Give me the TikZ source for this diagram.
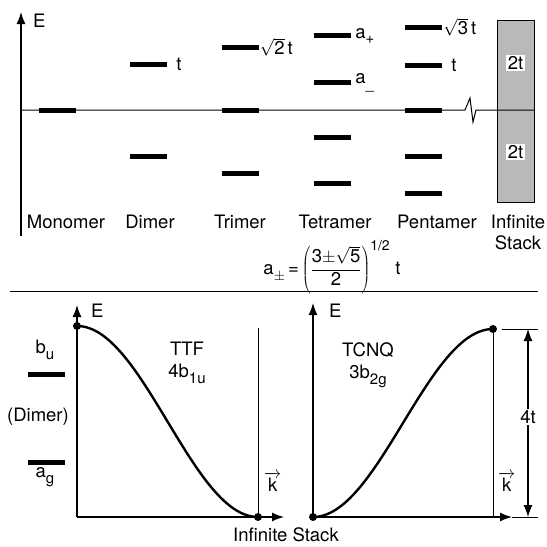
\documentclass[tikz,border=0pt]{standalone}
\usepackage{fontspec}
\setmainfont{TeX Gyre Heros}
\usetikzlibrary{arrows.meta}
\newcommand\lowsub[1]{\raisebox{-0.32em}{\fontsize{15}{15}\selectfont #1}}
\begin{document}
\begin{tikzpicture}[x=1pt,y=-1pt,font=\fontsize{18.5}{20}\selectfont,
  >={Latex[length=12pt,width=9pt]},
  lvl/.style={fill=black,minimum width=37pt,minimum height=5pt,inner sep=0pt},
  axline/.style={line width=1.3pt,<-},
  dax/.style={line width=1.2pt,<->},
  thinl/.style={line width=1pt},
  curve/.style={line width=2.4pt},
  dot/.style={circle,fill=black,inner sep=0pt,minimum size=8pt},
  lab/.style={inner sep=1pt}]
\useasboundingbox (0,0) rectangle (547,547);
% ---------------- top panel ----------------
\coordinate (ta0) at (21,236);
\coordinate (ta1) at (21,12);
\draw[axline] (ta1) -- (ta0);
\node[lab,anchor=west] (Etop) at (32,21) {E};
% infinite stack box
\node[draw,line width=1pt,fill=gray!55,minimum width=37pt,minimum height=182pt,inner sep=0pt] (stack) at (515.5,111) {};
\node[fill=white,inner sep=1.5pt] (st1) at (515.5,63) {2t};
\node[fill=white,inner sep=1.5pt] (st2) at (515.5,152) {2t};
% zero line with break
\coordinate (z0) at (21,110);
\coordinate (zb0) at (465,110);
\coordinate (zb1) at (470,98);
\coordinate (zb2) at (473,122);
\coordinate (zb3) at (476,110);
\coordinate (z1) at (534,110);
\draw[thinl] (z0) -- (zb0) -- (zb1) -- (zb2) -- (zb3) -- (z1);
% levels
\node[lvl] (mono) at (57,110) {};
\node[lvl] (dim1) at (148.5,64) {};
\node[lvl] (dim2) at (148.5,156) {};
\node[lvl] (tri1) at (240,47) {};
\node[lvl] (tri2) at (240,110) {};
\node[lvl] (tri3) at (240,173) {};
\node[lvl] (tet1) at (332.5,35) {};
\node[lvl] (tet2) at (332.5,82) {};
\node[lvl] (tet3) at (332.5,137) {};
\node[lvl] (tet4) at (332.5,183) {};
\node[lvl] (pen1) at (423.5,27) {};
\node[lvl] (pen2) at (423.5,65) {};
\node[lvl] (pen3) at (423.5,110) {};
\node[lvl] (pen4) at (423.5,156) {};
\node[lvl] (pen5) at (423.5,193) {};
% level labels
\node[lab,anchor=west] (ldim) at ([xshift=8pt]dim1.east) {t};
\node[lab,anchor=west] (ltri) at ([xshift=0pt]tri1.east) {$\sqrt{\mbox{2}}$\,t};
\node[lab,anchor=west] (ltet1) at ([xshift=3pt,yshift=-1pt]tet1.east) {a\lowsub{+}};
\node[lab,anchor=west] (ltet2) at ([xshift=3pt,yshift=-1pt]tet2.east) {a\lowsub{\_}};
\node[lab,anchor=west] (lpen1) at ([xshift=0pt]pen1.east) {$\sqrt{\mbox{3}}$\,t};
\node[lab,anchor=west] (lpen2) at ([xshift=8pt]pen2.east) {t};
% category labels
\node[lab] (cmono) at (66,222) {Monomer};
\node[lab] (cdim) at (150,222) {Dimer};
\node[lab] (ctri) at (240,222) {Trimer};
\node[lab] (ctet) at (335,222) {Tetramer};
\node[lab] (cpen) at (437,222) {Pentamer};
\node[lab] (cinf) at (518,222) {Infinite};
\node[lab] (cstk) at (518,243) {Stack};
% formula
\node[lab] (formula) at (332,267) {a\lowsub{$\pm$}\,=\,$\displaystyle\left(\frac{\mbox{3$\pm$}\sqrt{\mbox{5}}}{\mbox{2}}\right)^{\mbox{\fontsize{14}{14}\selectfont 1/2}}$\ t};
% separator
\coordinate (s0) at (10,291);
\coordinate (s1) at (538,291);
\draw[thinl] (s0) -- (s1);
% ---------------- bottom left ----------------
\coordinate (lo) at (77,517);
\coordinate (ly) at (77,305);
\coordinate (lx) at (284,517);
\draw[axline] (ly) -- (lo);
\draw[axline] (lx) -- (lo);
\node[lab,anchor=west] (lE) at (90,311) {E};
\coordinate (lv0) at (258,328);
\coordinate (lv1) at (258,517);
\draw[thinl] (lv0) -- (lv1);
\draw[curve] plot[domain=0:180,samples=60] ({77+1.00556*\x},{421.5-95.5*cos(\x)});
\node[dot] (ld1) at (77,326) {};
\node[dot] (ld2) at (258,517) {};
\node[lab] (ttf) at (187,349) {TTF};
\node[lab] (ttfo) at (187,374) {4b\lowsub{1u}};
\node[lab,anchor=west] (lk) at (263,482) {$\overrightarrow{\mbox{k}}$};
% dimer levels
\node[lab] (bu) at (45,350) {b\lowsub{u}};
\node[lvl] (dbu) at (46.5,374) {};
\node[lab] (dimlab) at (38,417) {(Dimer)};
\node[lvl] (dag) at (46.5,462) {};
\node[lab] (ag) at (45,477) {a\lowsub{g}};
% ---------------- bottom right ----------------
\coordinate (ro) at (313,517);
\coordinate (ry) at (313,303);
\coordinate (rx) at (512,517);
\draw[axline] (ry) -- (ro);
\draw[axline] (rx) -- (ro);
\node[lab,anchor=west] (rE) at (328,311) {E};
\coordinate (rv0) at (493,329);
\coordinate (rv1) at (493,517);
\draw[thinl] (rv0) -- (rv1);
\draw[curve] plot[domain=0:180,samples=60] ({313+\x},{423+94*cos(\x)});
\node[dot] (rd1) at (313,517) {};
\node[dot] (rd2) at (493,329) {};
\node[lab] (tcnq) at (368,350) {TCNQ};
\node[lab] (tcnqo) at (368,376) {3b\lowsub{2g}};
\node[lab,anchor=west] (rk) at (497,482) {$\overrightarrow{\mbox{k}}$};
% 4t dimension
\coordinate (tk0) at (502,329);
\coordinate (tk1) at (538,329);
\coordinate (tk2) at (512,517);
\coordinate (tk3) at (538,517);
\draw[thinl] (tk0) -- (tk1);
\draw[thinl] (tk2) -- (tk3);
\coordinate (da0) at (528,329);
\coordinate (da1) at (528,517);
\draw[dax] (da0) -- (da1);
\node[fill=white,inner sep=1.5pt] (fourt) at (528,417) {4t};
\node[lab] (infst) at (286,535) {Infinite Stack};
\end{tikzpicture}
\end{document}
